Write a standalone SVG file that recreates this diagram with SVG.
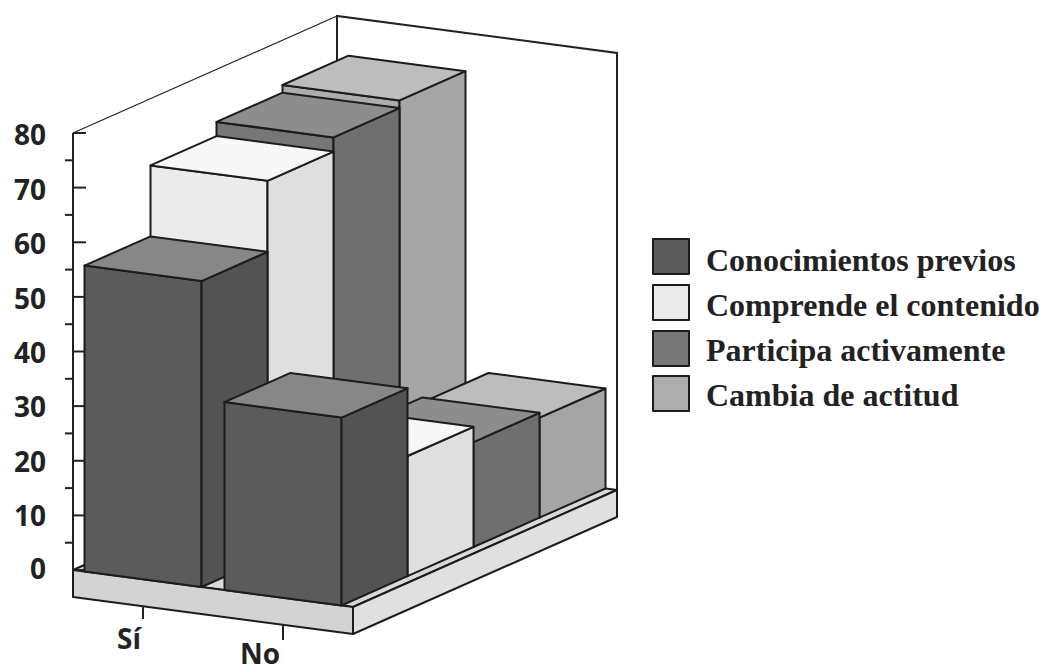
<svg xmlns="http://www.w3.org/2000/svg" width="1052" height="672" viewBox="0 0 1052 672">
<style>
.e{stroke:#1c1c1c;stroke-width:2;stroke-linejoin:round}
.c1f{fill:#5b5b5b}.c1s{fill:#535353}.c1t{fill:#878787}
.c2f{fill:#ebebeb}.c2s{fill:#dfdfdf}.c2t{fill:#f7f7f7}
.c3f{fill:#777777}.c3s{fill:#6f6f6f}.c3t{fill:#8d8d8d}
.c4f{fill:#adadad}.c4s{fill:#a5a5a5}.c4t{fill:#bdbdbd}
.ax{font-family:"Open Sans","Liberation Sans",sans-serif;font-weight:bold;font-size:28px;fill:#222222}
.cat{font-family:"Open Sans","Liberation Sans",sans-serif;font-weight:bold;font-size:28px;fill:#222222;text-anchor:middle}
.lg{font-family:"Liberation Serif","Times New Roman",serif;font-weight:bold;font-size:32px;fill:#222222}
.tk{stroke:#222222;stroke-width:2}
</style>
<rect width="1052" height="672" fill="#ffffff"/>

<g id="walls" fill="none" stroke="#222222">
  <line x1="73" y1="133" x2="337" y2="16" stroke-width="1.2"/>
  <polyline points="337,453 337,16 617,53 617,490" stroke-width="2"/>
</g>

<g id="floor" class="e">
  <polygon points="73,570 353,607 617,490 337,453" fill="#d9d9d9"/>
  <polygon points="73,570 353,607 353,634 73,597" fill="#d3d3d3"/>
  <polygon points="353,607 617,490 617,517 353,634" fill="#e0e0e0"/>
</g>

<g id="axis-y">
  <line class="tk" x1="73" y1="133" x2="73" y2="570"/>
  <g class="tk">
    <line x1="73" y1="570" x2="86" y2="570"/>
    <line x1="73" y1="515.4" x2="86" y2="515.4"/>
    <line x1="73" y1="460.8" x2="86" y2="460.8"/>
    <line x1="73" y1="406.1" x2="86" y2="406.1"/>
    <line x1="73" y1="351.5" x2="86" y2="351.5"/>
    <line x1="73" y1="296.9" x2="86" y2="296.9"/>
    <line x1="73" y1="242.3" x2="86" y2="242.3"/>
    <line x1="73" y1="187.6" x2="86" y2="187.6"/>
    <line x1="73" y1="133" x2="86" y2="133"/>
    <line x1="65" y1="542.7" x2="73" y2="542.7"/>
    <line x1="65" y1="488.1" x2="73" y2="488.1"/>
    <line x1="65" y1="433.4" x2="73" y2="433.4"/>
    <line x1="65" y1="378.8" x2="73" y2="378.8"/>
    <line x1="65" y1="324.2" x2="73" y2="324.2"/>
    <line x1="65" y1="269.6" x2="73" y2="269.6"/>
    <line x1="65" y1="214.9" x2="73" y2="214.9"/>
    <line x1="65" y1="160.3" x2="73" y2="160.3"/>
  </g>
  <g class="ax" text-anchor="end">
    <text x="46" y="145">80</text>
    <text x="46" y="200">70</text>
    <text x="46" y="254">60</text>
    <text x="46" y="309">50</text>
    <text x="46" y="363">40</text>
    <text x="46" y="417">30</text>
    <text x="46" y="472">20</text>
    <text x="46" y="526">10</text>
    <text x="46" y="579">0</text>
  </g>
</g>

<g id="axis-x">
  <line class="tk" x1="143" y1="606" x2="143" y2="619"/>
  <line class="tk" x1="283" y1="624.5" x2="283" y2="640"/>
  <text class="cat" x="129" y="649">Sí</text>
  <text class="cat" x="260" y="664">No</text>
</g>

<g id="bars" class="e">
  <g id="si-cambia">
    <polygon class="c4f" points="282.5,483.8 399.5,499.2 399.5,100.4 282.5,85"/>
    <polygon class="c4s" points="399.5,499.2 465.5,470 465.5,71.2 399.5,100.4"/>
    <polygon class="c4t" points="282.5,85 399.5,100.4 465.5,71.2 348.5,55.7"/>
  </g>
  <g id="no-cambia">
    <polygon class="c4f" points="422.5,502.3 539.5,517.7 539.5,417.7 422.5,402.3"/>
    <polygon class="c4s" points="539.5,517.7 605.5,488.5 605.5,388.5 539.5,417.7"/>
    <polygon class="c4t" points="422.5,402.3 539.5,417.7 605.5,388.5 488.5,373"/>
  </g>
  <g id="si-participa">
    <polygon class="c3f" points="216.5,513 333.5,528.5 333.5,137.4 216.5,121.9"/>
    <polygon class="c3s" points="333.5,528.5 399.5,499.2 399.5,108.1 333.5,137.4"/>
    <polygon class="c3t" points="216.5,121.9 333.5,137.4 399.5,108.1 282.5,92.7"/>
  </g>
  <g id="no-participa">
    <polygon class="c3f" points="356.5,531.5 473.5,547 473.5,442.1 356.5,426.6"/>
    <polygon class="c3s" points="473.5,547 539.5,517.7 539.5,412.8 473.5,442.1"/>
    <polygon class="c3t" points="356.5,426.6 473.5,442.1 539.5,412.8 422.5,397.4"/>
  </g>
  <g id="si-comprende">
    <polygon class="c2f" points="150.5,542.3 267.5,557.7 267.5,180.8 150.5,165.4"/>
    <polygon class="c2s" points="267.5,557.7 333.5,528.5 333.5,151.6 267.5,180.8"/>
    <polygon class="c2t" points="150.5,165.4 267.5,180.8 333.5,151.6 216.5,136.1"/>
  </g>
  <g id="no-comprende">
    <polygon class="c2f" points="290.5,560.8 407.5,576.2 407.5,456 290.5,440.6"/>
    <polygon class="c2s" points="407.5,576.2 473.5,547 473.5,426.8 407.5,456"/>
    <polygon class="c2t" points="290.5,440.6 407.5,456 473.5,426.8 356.5,411.3"/>
  </g>
  <g id="si-conocimientos">
    <polygon class="c1f" points="84.5,571.5 201.5,587 201.5,281.1 84.5,265.6"/>
    <polygon class="c1s" points="201.5,587 267.5,557.7 267.5,251.8 201.5,281.1"/>
    <polygon class="c1t" points="84.5,265.6 201.5,281.1 267.5,251.8 150.5,236.4"/>
  </g>
  <g id="no-conocimientos">
    <polygon class="c1f" points="224.5,590 341.5,605.5 341.5,417.6 224.5,402.1"/>
    <polygon class="c1s" points="341.5,605.5 407.5,576.2 407.5,388.3 341.5,417.6"/>
    <polygon class="c1t" points="224.5,402.1 341.5,417.6 407.5,388.3 290.5,372.9"/>
  </g>
</g>

<g id="legend">
  <g id="legend-conocimientos">
    <rect class="e c1f" x="653" y="239" width="36" height="35"/>
    <text class="lg" x="706" y="271">Conocimientos previos</text>
  </g>
  <g id="legend-comprende">
    <rect class="e c2f" x="653" y="285" width="36" height="35"/>
    <text class="lg" x="706" y="316">Comprende el contenido</text>
  </g>
  <g id="legend-participa">
    <rect class="e c3f" x="653" y="331" width="36" height="35"/>
    <text class="lg" x="706" y="361">Participa activamente</text>
  </g>
  <g id="legend-cambia">
    <rect class="e c4f" x="653" y="376" width="36" height="35"/>
    <text class="lg" x="706" y="406">Cambia de actitud</text>
  </g>
</g>
</svg>
